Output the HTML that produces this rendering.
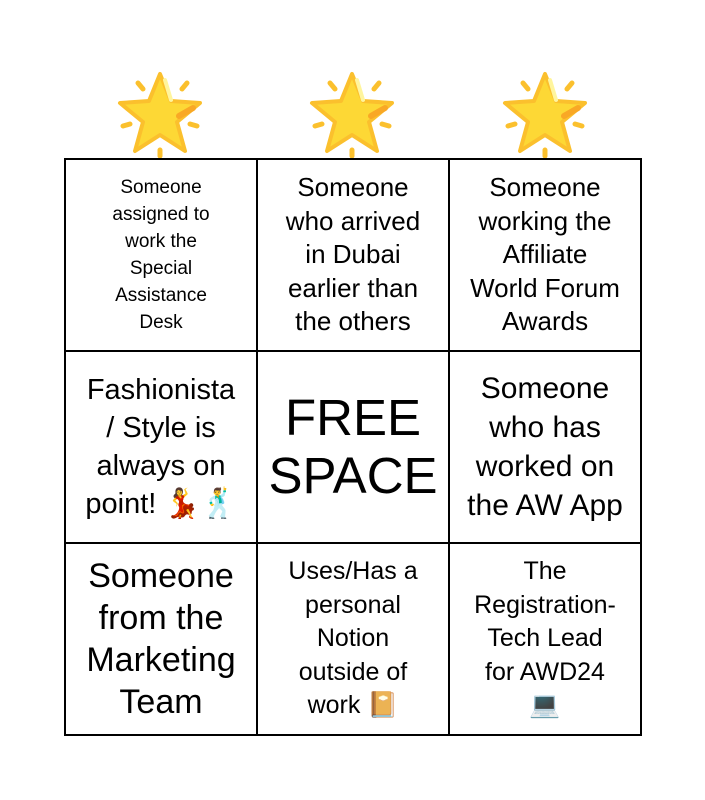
<!DOCTYPE html>
<html><head><style>
body{margin:0;width:705px;height:800px;background:#fff;position:relative;font-family:"Liberation Sans",sans-serif;overflow:hidden}
.star{position:absolute;top:68px;width:90px;height:90px}
table{position:absolute;left:64px;top:158px;border-collapse:collapse;table-layout:fixed;width:578px}
td{width:192px;height:192px;border:2px solid #000;text-align:center;vertical-align:middle;padding:0;box-sizing:border-box;color:#000}
td div{margin:0 auto}
</style></head><body>
<svg width="0" height="0" style="position:absolute"><defs><g id="s">
<path d="M45 6 L56 33 L85 35 L62 54 L70 83 L45 67 L20 83 L28 54 L5 35 L34 33 Z" fill="#fdd835" stroke="#fbc02d" stroke-width="4" stroke-linejoin="round"/>
<path d="M50 12 L56 32" stroke="#fff59d" stroke-width="4" stroke-linecap="round"/>
<path d="M64 48 L78 40" stroke="#f9a825" stroke-width="6" stroke-linecap="round"/>
<path d="M23 15 L28 21 M72 15 L67 21 M8 58 L15 56 M82 58 L75 56 M45 82 L45 88" stroke="#fbc02d" stroke-width="5" stroke-linecap="round"/>
</g></defs></svg>
<svg class="star" style="left:115px" viewBox="0 0 90 90"><use href="#s"/></svg>
<svg class="star" style="left:307px" viewBox="0 0 90 90"><use href="#s"/></svg>
<svg class="star" style="left:500px" viewBox="0 0 90 90"><use href="#s"/></svg>
<table>
<tr>
<td style="font-size:19px;line-height:27px"><div style="width:125px">Someone assigned to work the Special Assistance Desk</div></td>
<td style="font-size:26px;line-height:33.5px"><div style="width:150px">Someone who arrived in Dubai earlier than the others</div></td>
<td style="font-size:26px;line-height:33.5px"><div style="width:150px">Someone working the Affiliate World Forum Awards</div></td>
</tr>
<tr>
<td style="font-size:29px;line-height:38px"><div style="width:163px">Fashionista / Style is always on point! 💃🕺</div></td>
<td style="font-size:51px;line-height:58px"><div style="width:180px">FREE SPACE</div></td>
<td style="font-size:30px;line-height:39px"><div style="width:180px">Someone who has worked on the AW App</div></td>
</tr>
<tr>
<td style="font-size:34px;line-height:42px"><div style="width:180px">Someone from the Marketing Team</div></td>
<td style="font-size:25px;line-height:33.5px"><div style="width:150px">Uses/Has a personal Notion outside of work 📔</div></td>
<td style="font-size:25px;line-height:33.5px"><div style="width:150px">The Registration-Tech Lead for AWD24 💻</div></td>
</tr>
</table>
</body></html>
